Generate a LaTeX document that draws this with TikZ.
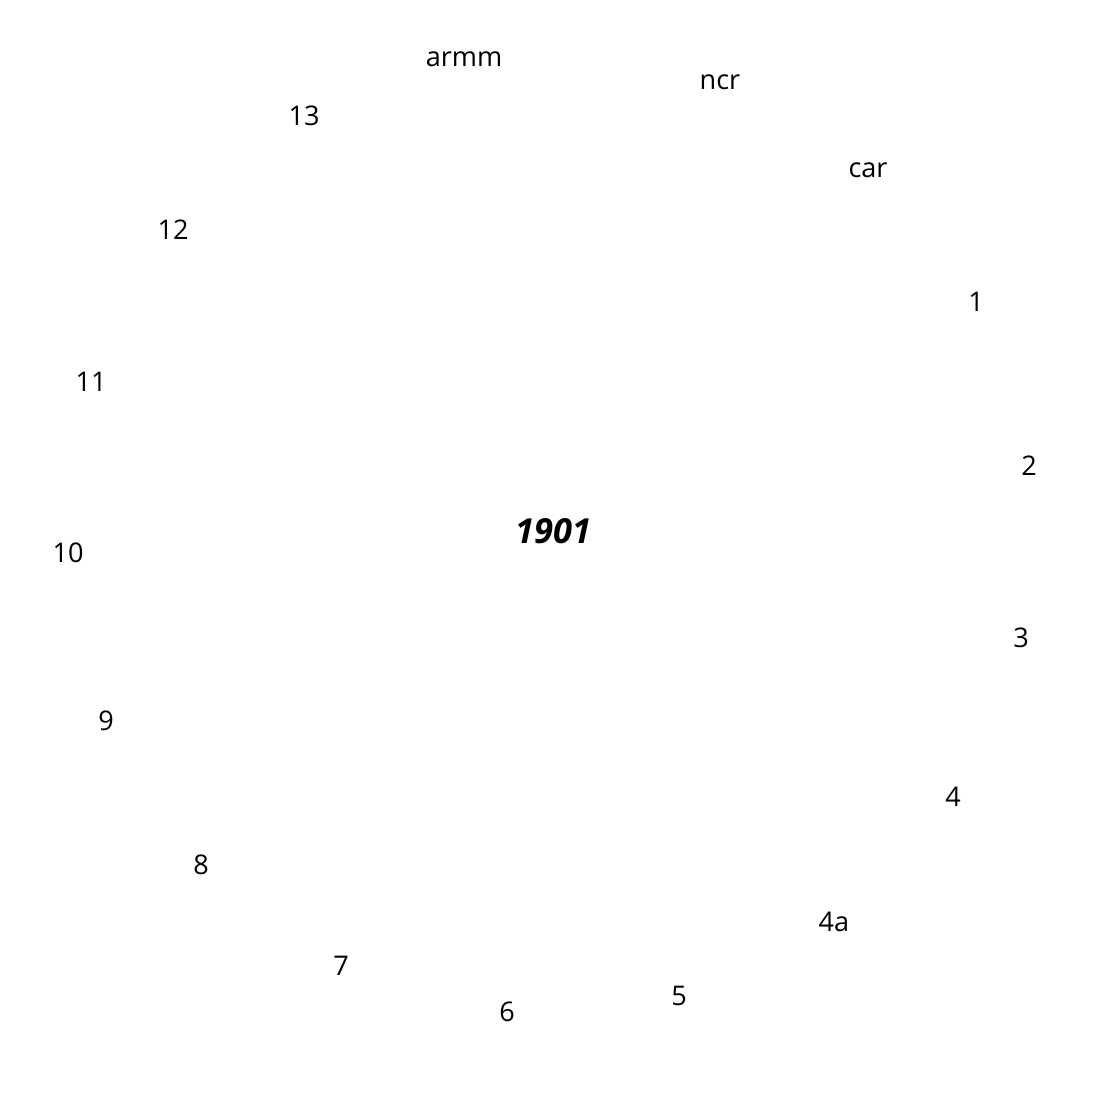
\documentclass[tikz,border=0pt]{standalone}
\usepackage{fontspec}
\setmainfont{Open Sans}
\usepackage{tikz}
\tikzset{
    region/.style = {inner sep = 0pt, font = \fontsize{7.7}{9}\selectfont},
    year/.style = {inner sep = 0pt, font = \fontsize{9.8}{12}\selectfont\bfseries\itshape},
}

\begin{document}
\begin{tikzpicture}[x = 0.01cm, y = -0.01cm]
            \useasboundingbox (0, 0) rectangle (1099, 1099);

            \node[year] (yr) at (553, 531) {1901};

            \node[region] (armm) at (464, 59) {armm};
            \node[region] (ncr) at (720, 82) {ncr};
            \node[region] (car) at (868, 170) {car};

            \node[region] (r1) at (976, 302) {1};
            \node[region] (r2) at (1029, 466) {2};
            \node[region] (r3) at (1021, 638) {3};
            \node[region] (r4) at (953, 797) {4};
            \node[region] (r4a) at (834, 922) {4a};
            \node[region] (r5) at (679, 996) {5};
            \node[region] (r6) at (507, 1012) {6};
            \node[region] (r7) at (341, 966) {7};
            \node[region] (r8) at (201, 865) {8};
            \node[region] (r9) at (106, 721) {9};
            \node[region] (r10) at (68, 553) {10};
            \node[region] (r11) at (91, 382) {11};
            \node[region] (r12) at (173, 230) {12};
            \node[region] (r13) at (304, 116) {13};
        \end{tikzpicture}
\end{document}
